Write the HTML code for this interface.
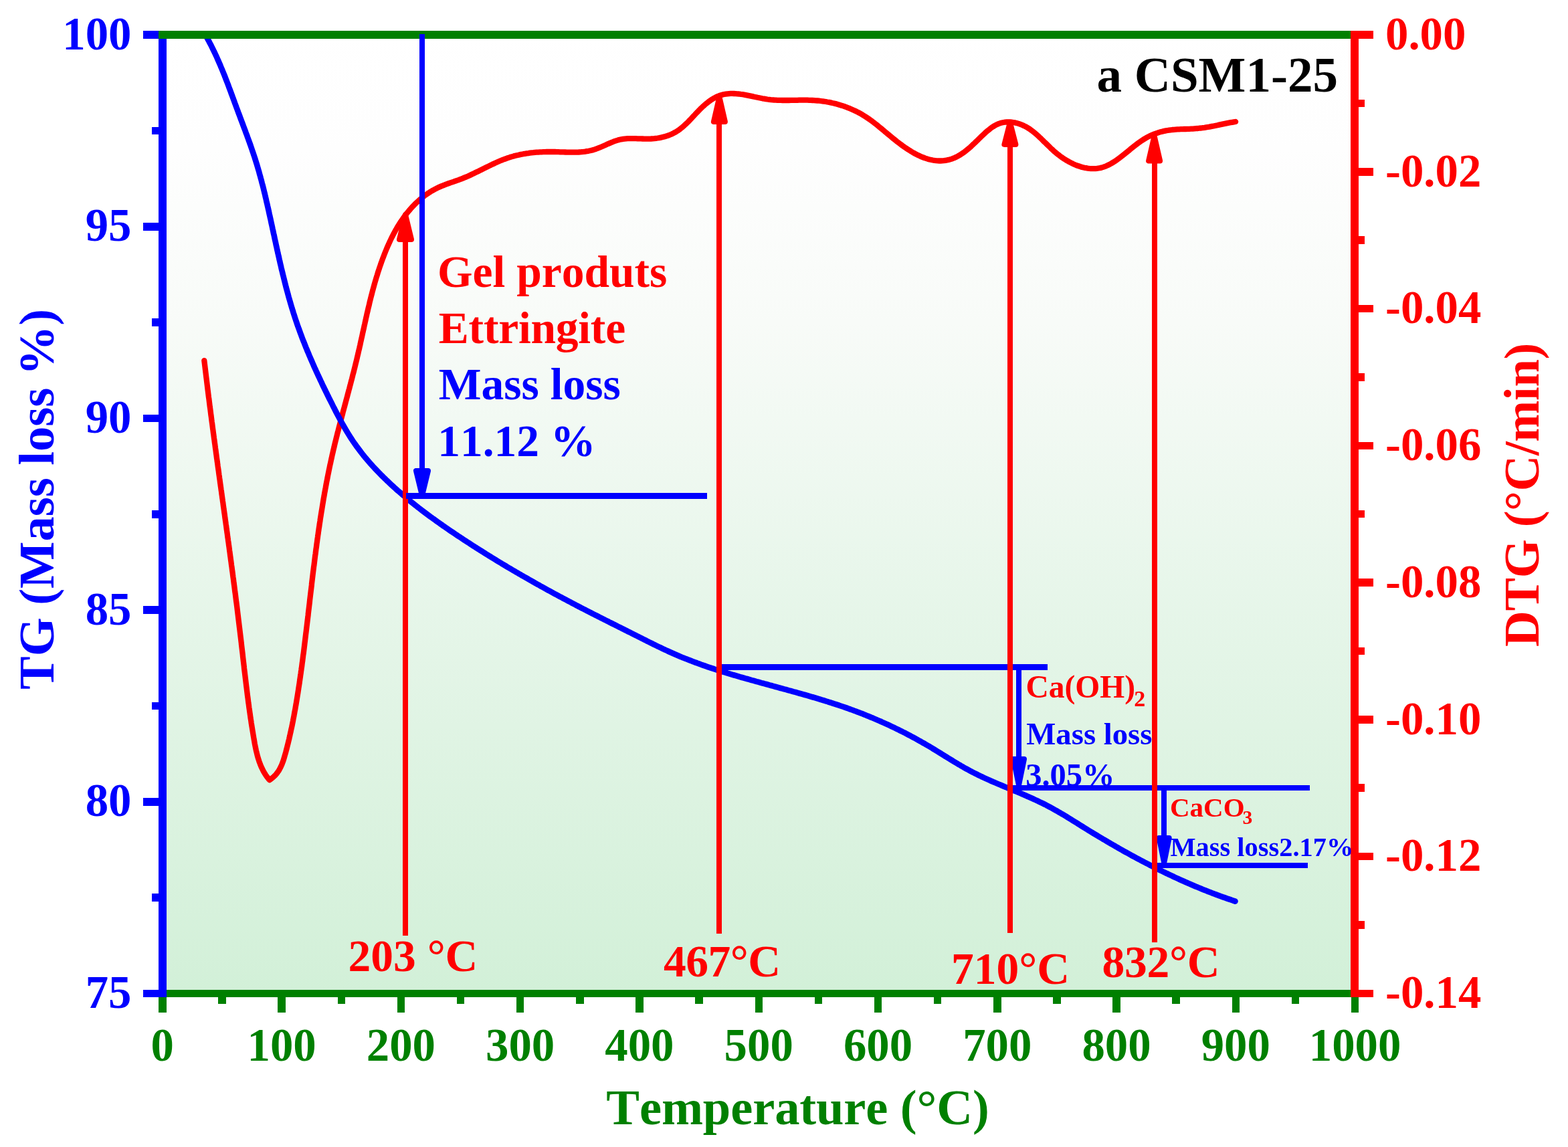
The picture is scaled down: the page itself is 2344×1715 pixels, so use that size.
<!DOCTYPE html>
<html><head><meta charset="utf-8"><title>TG-DTG a CSM1-25</title>
<style>html,body{margin:0;padding:0;background:#fff;overflow:hidden}svg{display:block} text{font-kerning:none;font-variant-ligatures:none}</style>
</head><body>
<svg xmlns="http://www.w3.org/2000/svg" width="2344" height="1715" viewBox="0 0 2344 1715"><defs><linearGradient id="bg" x1="0" y1="0" x2="0" y2="1"><stop offset="0" stop-color="#ffffff"/><stop offset="0.12" stop-color="#fefefe"/><stop offset="0.3" stop-color="#f8fbf8"/><stop offset="0.58" stop-color="#e7f6ea"/><stop offset="1" stop-color="#d2f0d8"/></linearGradient></defs><rect x="243" y="52" width="1782" height="1434" fill="url(#bg)"/><path d="M305.3 539.1 L305.6 541.6 L305.9 544.1 L306.2 546.5 L306.5 549.0 L306.8 551.5 L307.1 554.0 L307.4 556.4 L307.7 558.9 L308.0 561.4 L308.3 563.9 L308.6 566.3 L308.9 568.8 L309.2 571.3 L309.5 573.8 L309.8 576.2 L310.1 578.7 L310.4 581.2 L310.7 583.7 L311.0 586.1 L311.3 588.6 L311.6 591.1 L311.9 593.6 L312.3 596.0 L312.6 598.5 L312.9 601.0 L313.2 603.5 L313.5 605.9 L313.8 608.4 L314.2 610.9 L314.5 613.3 L314.8 615.8 L315.1 618.3 L315.4 620.8 L315.8 623.2 L316.1 625.7 L316.4 628.2 L316.7 630.6 L317.1 633.1 L317.4 635.6 L317.7 638.0 L318.0 640.5 L318.4 643.0 L318.7 645.5 L319.0 647.9 L319.4 650.4 L319.7 652.9 L320.0 655.3 L320.4 657.8 L320.7 660.3 L321.0 662.7 L321.4 665.2 L321.7 667.7 L322.0 670.1 L322.4 672.6 L322.7 675.1 L323.0 677.5 L323.4 680.0 L323.7 682.5 L324.0 685.0 L324.4 687.4 L324.7 689.9 L325.1 692.4 L325.4 694.8 L325.7 697.3 L326.1 699.8 L326.4 702.2 L326.8 704.7 L327.1 707.2 L327.4 709.6 L327.8 712.1 L328.1 714.6 L328.5 717.0 L328.8 719.5 L329.1 722.0 L329.5 724.4 L329.8 726.9 L330.2 729.4 L330.5 731.8 L330.9 734.3 L331.2 736.8 L331.5 739.2 L331.9 741.7 L332.2 744.2 L332.6 746.6 L332.9 749.1 L333.3 751.6 L333.6 754.0 L333.9 756.5 L334.3 759.0 L334.6 761.4 L335.0 763.9 L335.3 766.4 L335.7 768.8 L336.0 771.3 L336.3 773.8 L336.7 776.2 L337.0 778.7 L337.4 781.2 L337.7 783.6 L338.1 786.1 L338.4 788.6 L338.7 791.0 L339.1 793.5 L339.4 796.0 L339.8 798.4 L340.1 800.9 L340.4 803.4 L340.8 805.8 L341.1 808.3 L341.5 810.8 L341.8 813.2 L342.1 815.7 L342.5 818.2 L342.8 820.6 L343.1 823.1 L343.5 825.6 L343.8 828.1 L344.1 830.5 L344.5 833.0 L344.8 835.5 L345.1 837.9 L345.5 840.4 L345.8 842.9 L346.1 845.3 L346.5 847.8 L346.8 850.3 L347.1 852.8 L347.5 855.2 L347.8 857.7 L348.1 860.2 L348.4 862.6 L348.8 865.1 L349.1 867.6 L349.4 870.0 L349.7 872.5 L350.1 875.0 L350.4 877.5 L350.7 879.9 L351.0 882.4 L351.3 884.9 L351.7 887.4 L352.0 889.8 L352.3 892.3 L352.6 894.8 L352.9 897.2 L353.2 899.7 L353.6 902.2 L353.9 904.7 L354.2 907.1 L354.5 909.6 L354.8 912.1 L355.1 914.6 L355.4 917.0 L355.7 919.5 L356.0 922.0 L356.3 924.5 L356.6 926.9 L356.9 929.4 L357.2 931.9 L357.5 934.4 L357.8 936.9 L358.1 939.3 L358.4 941.8 L358.7 944.3 L359.0 946.8 L359.3 949.3 L359.6 951.7 L359.9 954.2 L360.2 956.7 L360.5 959.2 L360.8 961.7 L361.0 964.1 L361.3 966.6 L361.6 969.1 L361.9 971.6 L362.2 974.1 L362.5 976.5 L362.8 979.0 L363.0 981.5 L363.3 984.0 L363.6 986.5 L363.9 988.9 L364.2 991.4 L364.5 993.9 L364.8 996.4 L365.0 998.9 L365.3 1001.4 L365.6 1003.8 L365.9 1006.3 L366.2 1008.8 L366.5 1011.3 L366.8 1013.8 L367.1 1016.2 L367.4 1018.7 L367.7 1021.2 L368.0 1023.7 L368.3 1026.2 L368.6 1028.6 L368.9 1031.1 L369.2 1033.6 L369.5 1036.1 L369.8 1038.5 L370.1 1041.0 L370.5 1043.5 L370.8 1046.0 L371.1 1048.4 L371.4 1050.9 L371.8 1053.4 L372.1 1055.9 L372.4 1058.3 L372.8 1060.8 L373.1 1063.3 L373.5 1065.7 L373.8 1068.2 L374.2 1070.7 L374.5 1073.2 L374.9 1075.6 L375.3 1078.1 L375.6 1080.6 L376.0 1083.0 L376.4 1085.5 L376.8 1087.9 L377.2 1090.4 L377.6 1092.9 L378.0 1095.3 L378.4 1097.8 L378.8 1100.2 L379.2 1102.7 L379.6 1105.2 L380.1 1107.6 L380.5 1110.1 L380.9 1112.5 L381.4 1115.0 L381.9 1117.4 L382.4 1119.8 L382.9 1122.2 L383.5 1124.6 L384.1 1127.0 L384.7 1129.4 L385.3 1131.8 L386.0 1134.1 L386.8 1136.4 L387.5 1138.7 L388.4 1141.0 L389.2 1143.3 L390.1 1145.5 L391.1 1147.7 L392.2 1149.9 L393.2 1152.0 L394.4 1154.2 L395.6 1156.3 L396.9 1158.3 L398.3 1160.3 L399.7 1162.3 L401.2 1164.3 L402.8 1166.2 L402.8 1166.2 L405.0 1164.7 L407.1 1163.2 L409.0 1161.5 L410.8 1159.8 L412.5 1158.0 L414.0 1156.1 L415.4 1154.1 L416.8 1152.1 L418.0 1150.0 L419.1 1147.8 L420.2 1145.6 L421.2 1143.4 L422.1 1141.1 L423.0 1138.8 L423.8 1136.4 L424.5 1134.0 L425.2 1131.6 L425.9 1129.2 L426.6 1126.8 L427.3 1124.3 L427.9 1121.9 L428.6 1119.5 L429.2 1117.0 L429.8 1114.6 L430.4 1112.2 L431.0 1109.7 L431.6 1107.3 L432.2 1104.9 L432.7 1102.4 L433.3 1100.0 L433.8 1097.5 L434.4 1095.1 L434.9 1092.6 L435.4 1090.2 L436.0 1087.7 L436.5 1085.3 L437.0 1082.9 L437.5 1080.4 L438.0 1078.0 L438.4 1075.5 L438.9 1073.0 L439.4 1070.6 L439.8 1068.1 L440.3 1065.7 L440.7 1063.2 L441.2 1060.8 L441.6 1058.3 L442.0 1055.9 L442.5 1053.4 L442.9 1050.9 L443.3 1048.5 L443.7 1046.0 L444.1 1043.6 L444.5 1041.1 L444.9 1038.6 L445.3 1036.2 L445.7 1033.7 L446.1 1031.2 L446.4 1028.8 L446.8 1026.3 L447.2 1023.8 L447.6 1021.4 L447.9 1018.9 L448.3 1016.4 L448.6 1014.0 L449.0 1011.5 L449.3 1009.0 L449.7 1006.6 L450.0 1004.1 L450.4 1001.6 L450.7 999.1 L451.1 996.7 L451.4 994.2 L451.7 991.7 L452.1 989.2 L452.4 986.8 L452.7 984.3 L453.0 981.8 L453.3 979.3 L453.7 976.9 L454.0 974.4 L454.3 971.9 L454.6 969.4 L454.9 967.0 L455.2 964.5 L455.5 962.0 L455.8 959.5 L456.1 957.1 L456.4 954.6 L456.7 952.1 L457.0 949.6 L457.3 947.1 L457.6 944.7 L457.9 942.2 L458.2 939.7 L458.5 937.2 L458.8 934.7 L459.1 932.3 L459.4 929.8 L459.7 927.3 L460.0 924.8 L460.3 922.3 L460.6 919.9 L460.8 917.4 L461.1 914.9 L461.4 912.4 L461.7 909.9 L462.0 907.5 L462.3 905.0 L462.6 902.5 L462.9 900.0 L463.1 897.5 L463.4 895.0 L463.7 892.6 L464.0 890.1 L464.3 887.6 L464.6 885.1 L464.9 882.6 L465.2 880.2 L465.5 877.7 L465.8 875.2 L466.0 872.7 L466.3 870.2 L466.6 867.7 L466.9 865.3 L467.2 862.8 L467.5 860.3 L467.8 857.8 L468.1 855.3 L468.4 852.9 L468.7 850.4 L469.0 847.9 L469.4 845.4 L469.7 842.9 L470.0 840.5 L470.3 838.0 L470.6 835.5 L470.9 833.0 L471.2 830.5 L471.6 828.1 L471.9 825.6 L472.2 823.1 L472.5 820.6 L472.9 818.2 L473.2 815.7 L473.5 813.2 L473.9 810.7 L474.2 808.3 L474.5 805.8 L474.9 803.3 L475.2 800.8 L475.6 798.4 L475.9 795.9 L476.3 793.4 L476.6 790.9 L477.0 788.5 L477.4 786.0 L477.7 783.5 L478.1 781.1 L478.5 778.6 L478.8 776.1 L479.2 773.6 L479.6 771.2 L480.0 768.7 L480.4 766.2 L480.8 763.8 L481.2 761.3 L481.6 758.9 L482.0 756.4 L482.4 753.9 L482.8 751.5 L483.2 749.0 L483.6 746.5 L484.0 744.1 L484.5 741.6 L484.9 739.2 L485.3 736.7 L485.8 734.3 L486.2 731.8 L486.7 729.3 L487.1 726.9 L487.6 724.4 L488.0 722.0 L488.5 719.5 L489.0 717.1 L489.5 714.6 L489.9 712.2 L490.4 709.7 L490.9 707.3 L491.4 704.9 L491.9 702.4 L492.4 700.0 L492.9 697.5 L493.4 695.1 L494.0 692.7 L494.5 690.2 L495.0 687.8 L495.6 685.3 L496.1 682.9 L496.6 680.5 L497.2 678.0 L497.8 675.6 L498.3 673.2 L498.9 670.8 L499.5 668.3 L500.0 665.9 L500.6 663.5 L501.2 661.1 L501.8 658.6 L502.4 656.2 L503.0 653.8 L503.6 651.4 L504.2 648.9 L504.8 646.5 L505.5 644.1 L506.1 641.7 L506.7 639.3 L507.3 636.9 L508.0 634.4 L508.6 632.0 L509.2 629.6 L509.8 627.2 L510.5 624.8 L511.1 622.4 L511.8 619.9 L512.4 617.5 L513.0 615.1 L513.7 612.7 L514.3 610.3 L515.0 607.9 L515.6 605.5 L516.3 603.1 L516.9 600.6 L517.6 598.2 L518.2 595.8 L518.9 593.4 L519.5 591.0 L520.1 588.6 L520.8 586.2 L521.4 583.7 L522.1 581.3 L522.7 578.9 L523.3 576.5 L524.0 574.1 L524.6 571.7 L525.2 569.3 L525.9 566.8 L526.5 564.4 L527.1 562.0 L527.7 559.6 L528.4 557.2 L529.0 554.7 L529.6 552.3 L530.2 549.9 L530.8 547.5 L531.4 545.0 L532.0 542.6 L532.6 540.2 L533.2 537.8 L533.8 535.3 L534.3 532.9 L534.9 530.5 L535.5 528.0 L536.0 525.6 L536.6 523.2 L537.2 520.7 L537.7 518.3 L538.3 515.9 L538.8 513.4 L539.3 511.0 L539.9 508.5 L540.4 506.1 L541.0 503.7 L541.5 501.2 L542.0 498.8 L542.6 496.3 L543.1 493.9 L543.7 491.5 L544.2 489.0 L544.7 486.6 L545.3 484.1 L545.8 481.7 L546.4 479.3 L546.9 476.8 L547.4 474.4 L548.0 472.0 L548.5 469.5 L549.1 467.1 L549.7 464.7 L550.2 462.2 L550.8 459.8 L551.4 457.4 L552.0 455.0 L552.5 452.5 L553.1 450.1 L553.7 447.7 L554.3 445.3 L554.9 442.9 L555.6 440.4 L556.2 438.0 L556.8 435.6 L557.5 433.2 L558.1 430.8 L558.8 428.4 L559.4 426.0 L560.1 423.6 L560.8 421.2 L561.5 418.8 L562.2 416.4 L562.9 414.1 L563.7 411.7 L564.4 409.3 L565.1 406.9 L565.9 404.6 L566.7 402.2 L567.5 399.8 L568.3 397.5 L569.1 395.1 L569.9 392.8 L570.8 390.4 L571.6 388.1 L572.5 385.7 L573.4 383.4 L574.3 381.1 L575.2 378.7 L576.1 376.4 L577.1 374.1 L578.0 371.8 L579.0 369.5 L580.0 367.2 L581.1 364.9 L582.1 362.6 L583.2 360.3 L584.2 358.1 L585.3 355.8 L586.5 353.6 L587.6 351.3 L588.8 349.1 L589.9 346.9 L591.1 344.7 L592.4 342.5 L593.6 340.4 L594.9 338.2 L596.2 336.1 L597.5 334.0 L598.9 331.9 L600.3 329.8 L601.7 327.8 L603.1 325.7 L604.6 323.7 L606.0 321.7 L607.6 319.7 L609.1 317.8 L610.7 315.9 L612.3 314.0 L613.9 312.1 L615.6 310.2 L617.3 308.4 L619.0 306.6 L620.8 304.8 L622.6 303.1 L624.4 301.4 L626.2 299.7 L628.1 298.1 L630.0 296.5 L632.0 294.9 L633.9 293.3 L635.9 291.8 L638.0 290.4 L640.0 289.0 L642.1 287.6 L644.2 286.3 L646.3 285.0 L648.5 283.8 L650.7 282.6 L652.9 281.5 L655.1 280.4 L657.4 279.4 L659.7 278.4 L661.9 277.5 L664.3 276.6 L666.6 275.7 L668.9 274.8 L671.3 274.0 L673.6 273.2 L676.0 272.4 L678.3 271.6 L680.7 270.7 L683.1 269.9 L685.4 269.1 L687.8 268.2 L690.1 267.3 L692.4 266.4 L694.7 265.4 L697.1 264.5 L699.4 263.5 L701.7 262.4 L703.9 261.4 L706.2 260.3 L708.5 259.2 L710.8 258.1 L713.0 257.0 L715.3 255.9 L717.6 254.8 L719.8 253.7 L722.1 252.6 L724.3 251.4 L726.6 250.3 L728.9 249.2 L731.1 248.1 L733.4 247.0 L735.6 245.9 L737.9 244.9 L740.2 243.8 L742.5 242.8 L744.7 241.8 L747.0 240.8 L749.3 239.8 L751.6 238.9 L753.9 238.0 L756.3 237.2 L758.6 236.3 L760.9 235.6 L763.3 234.8 L765.6 234.1 L768.0 233.4 L770.4 232.8 L772.8 232.2 L775.2 231.7 L777.6 231.1 L780.0 230.7 L782.4 230.2 L784.9 229.8 L787.3 229.4 L789.8 229.1 L792.2 228.7 L794.7 228.4 L797.2 228.2 L799.6 227.9 L802.1 227.7 L804.6 227.6 L807.1 227.4 L809.6 227.3 L812.1 227.2 L814.6 227.1 L817.1 227.0 L819.6 227.0 L822.2 227.0 L824.7 227.0 L827.2 227.0 L829.7 227.0 L832.3 227.1 L834.8 227.2 L837.3 227.3 L839.8 227.3 L842.4 227.4 L844.9 227.5 L847.4 227.6 L849.9 227.6 L852.5 227.7 L855.0 227.7 L857.5 227.7 L860.0 227.7 L862.5 227.6 L865.0 227.5 L867.4 227.3 L869.9 227.1 L872.4 226.9 L874.8 226.6 L877.2 226.2 L879.7 225.8 L882.1 225.3 L884.5 224.7 L886.9 224.1 L889.2 223.3 L891.6 222.5 L893.9 221.6 L896.3 220.7 L898.6 219.7 L900.9 218.7 L903.2 217.7 L905.5 216.7 L907.9 215.6 L910.2 214.6 L912.5 213.6 L914.8 212.7 L917.1 211.7 L919.4 210.9 L921.8 210.1 L924.1 209.4 L926.5 208.8 L928.8 208.3 L931.2 207.9 L933.6 207.6 L936.0 207.4 L938.4 207.2 L940.9 207.1 L943.3 207.1 L945.7 207.1 L948.2 207.1 L950.7 207.2 L953.1 207.3 L955.6 207.3 L958.1 207.4 L960.6 207.5 L963.1 207.6 L965.6 207.6 L968.1 207.6 L970.6 207.6 L973.1 207.5 L975.6 207.3 L978.1 207.1 L980.6 206.8 L983.1 206.5 L985.6 206.1 L988.0 205.6 L990.5 205.0 L992.9 204.4 L995.3 203.7 L997.6 203.0 L1000.0 202.2 L1002.3 201.2 L1004.5 200.3 L1006.7 199.2 L1008.9 198.0 L1011.0 196.8 L1013.1 195.5 L1015.1 194.1 L1017.1 192.6 L1019.0 191.1 L1020.9 189.5 L1022.8 187.8 L1024.6 186.1 L1026.5 184.4 L1028.3 182.6 L1030.0 180.8 L1031.8 179.0 L1033.6 177.1 L1035.3 175.2 L1037.0 173.4 L1038.8 171.5 L1040.5 169.6 L1042.3 167.8 L1044.1 165.9 L1045.8 164.1 L1047.6 162.3 L1049.5 160.5 L1051.3 158.8 L1053.2 157.1 L1055.0 155.5 L1057.0 153.9 L1058.9 152.4 L1060.9 150.9 L1062.9 149.6 L1064.9 148.3 L1067.0 147.0 L1069.1 145.9 L1071.2 144.8 L1073.4 143.8 L1075.6 143.0 L1077.9 142.2 L1080.2 141.6 L1082.5 141.0 L1084.9 140.6 L1087.3 140.3 L1089.8 140.1 L1092.2 139.9 L1094.7 139.9 L1097.3 140.0 L1099.8 140.1 L1102.3 140.3 L1104.9 140.5 L1107.4 140.9 L1110.0 141.2 L1112.5 141.6 L1115.0 142.1 L1117.5 142.6 L1120.0 143.1 L1122.5 143.6 L1125.0 144.1 L1127.5 144.7 L1130.0 145.2 L1132.5 145.8 L1134.9 146.3 L1137.4 146.8 L1139.9 147.3 L1142.4 147.7 L1144.8 148.1 L1147.3 148.5 L1149.8 148.8 L1152.3 149.1 L1154.8 149.3 L1157.2 149.5 L1159.7 149.6 L1162.2 149.8 L1164.7 149.8 L1167.2 149.9 L1169.7 150.0 L1172.1 150.0 L1174.6 150.0 L1177.1 150.0 L1179.6 150.0 L1182.1 149.9 L1184.6 149.9 L1187.1 149.9 L1189.6 149.8 L1192.1 149.8 L1194.5 149.7 L1197.0 149.7 L1199.5 149.7 L1202.0 149.7 L1204.5 149.7 L1207.0 149.7 L1209.5 149.8 L1212.0 149.9 L1214.5 150.0 L1217.0 150.1 L1219.4 150.3 L1221.9 150.5 L1224.4 150.7 L1226.9 151.0 L1229.4 151.3 L1231.9 151.7 L1234.4 152.0 L1236.8 152.5 L1239.3 152.9 L1241.7 153.4 L1244.2 154.0 L1246.6 154.5 L1249.1 155.1 L1251.5 155.8 L1253.9 156.5 L1256.3 157.2 L1258.7 157.9 L1261.0 158.7 L1263.4 159.5 L1265.7 160.4 L1268.1 161.3 L1270.4 162.2 L1272.7 163.2 L1274.9 164.2 L1277.2 165.2 L1279.4 166.3 L1281.6 167.4 L1283.8 168.5 L1286.0 169.7 L1288.1 170.9 L1290.2 172.2 L1292.3 173.5 L1294.3 174.8 L1296.4 176.1 L1298.4 177.5 L1300.4 178.9 L1302.4 180.3 L1304.3 181.8 L1306.3 183.3 L1308.2 184.8 L1310.2 186.3 L1312.1 187.8 L1314.0 189.4 L1315.9 190.9 L1317.8 192.5 L1319.7 194.1 L1321.6 195.7 L1323.5 197.3 L1325.4 198.9 L1327.3 200.5 L1329.3 202.1 L1331.2 203.7 L1333.1 205.3 L1335.1 206.9 L1337.1 208.5 L1339.0 210.1 L1341.0 211.7 L1343.1 213.3 L1345.1 214.8 L1347.2 216.4 L1349.2 217.9 L1351.3 219.4 L1353.5 220.9 L1355.6 222.3 L1357.8 223.7 L1360.0 225.1 L1362.2 226.5 L1364.4 227.8 L1366.6 229.0 L1368.9 230.3 L1371.2 231.4 L1373.4 232.5 L1375.7 233.6 L1378.0 234.6 L1380.4 235.5 L1382.7 236.4 L1385.0 237.1 L1387.4 237.9 L1389.7 238.5 L1392.1 239.0 L1394.4 239.5 L1396.8 239.9 L1399.2 240.2 L1401.6 240.4 L1404.0 240.5 L1406.4 240.5 L1408.7 240.4 L1411.1 240.2 L1413.5 239.8 L1415.8 239.4 L1418.2 238.9 L1420.5 238.3 L1422.8 237.6 L1425.1 236.7 L1427.3 235.8 L1429.5 234.7 L1431.7 233.6 L1433.8 232.4 L1436.0 231.1 L1438.0 229.7 L1440.1 228.3 L1442.2 226.8 L1444.2 225.2 L1446.2 223.6 L1448.1 222.0 L1450.1 220.3 L1452.0 218.6 L1453.9 216.8 L1455.7 215.0 L1457.6 213.3 L1459.4 211.5 L1461.3 209.7 L1463.1 207.9 L1465.0 206.1 L1466.8 204.3 L1468.7 202.5 L1470.6 200.7 L1472.5 198.9 L1474.4 197.2 L1476.4 195.5 L1478.4 193.9 L1480.4 192.3 L1482.4 190.8 L1484.5 189.4 L1486.6 188.1 L1488.8 186.9 L1491.0 185.8 L1493.2 184.9 L1495.5 184.1 L1497.8 183.5 L1500.2 183.0 L1502.5 182.7 L1504.9 182.5 L1507.3 182.5 L1509.7 182.5 L1512.2 182.7 L1514.6 183.0 L1517.0 183.4 L1519.4 184.0 L1521.7 184.6 L1524.0 185.3 L1526.3 186.2 L1528.6 187.1 L1530.8 188.1 L1533.0 189.2 L1535.1 190.4 L1537.1 191.6 L1539.2 192.9 L1541.1 194.3 L1543.1 195.8 L1545.0 197.3 L1546.9 198.8 L1548.8 200.4 L1550.6 202.0 L1552.5 203.7 L1554.3 205.4 L1556.1 207.1 L1557.9 208.9 L1559.7 210.7 L1561.5 212.5 L1563.4 214.2 L1565.2 216.0 L1567.0 217.8 L1568.9 219.6 L1570.7 221.4 L1572.6 223.2 L1574.5 224.9 L1576.4 226.7 L1578.4 228.3 L1580.4 230.0 L1582.5 231.6 L1584.5 233.2 L1586.6 234.8 L1588.8 236.3 L1591.0 237.7 L1593.2 239.1 L1595.4 240.4 L1597.7 241.7 L1600.0 242.9 L1602.3 244.1 L1604.6 245.2 L1606.9 246.2 L1609.2 247.2 L1611.6 248.0 L1614.0 248.8 L1616.3 249.6 L1618.7 250.2 L1621.1 250.8 L1623.5 251.2 L1625.9 251.6 L1628.2 251.9 L1630.6 252.1 L1633.0 252.2 L1635.3 252.2 L1637.7 252.1 L1640.0 251.9 L1642.3 251.5 L1644.6 251.1 L1646.8 250.6 L1649.1 249.9 L1651.3 249.1 L1653.5 248.3 L1655.7 247.3 L1657.8 246.2 L1660.0 245.1 L1662.1 243.9 L1664.2 242.6 L1666.4 241.3 L1668.5 239.8 L1670.5 238.4 L1672.6 236.9 L1674.7 235.3 L1676.7 233.7 L1678.8 232.1 L1680.8 230.5 L1682.9 228.8 L1684.9 227.2 L1687.0 225.5 L1689.0 223.8 L1691.1 222.1 L1693.1 220.5 L1695.2 218.8 L1697.2 217.2 L1699.3 215.6 L1701.3 214.1 L1703.4 212.6 L1705.5 211.1 L1707.6 209.7 L1709.7 208.4 L1711.8 207.1 L1713.9 205.9 L1716.1 204.7 L1718.2 203.6 L1720.4 202.6 L1722.6 201.6 L1724.8 200.7 L1727.0 199.9 L1729.2 199.1 L1731.5 198.3 L1733.7 197.6 L1736.0 197.0 L1738.3 196.4 L1740.7 195.9 L1743.0 195.4 L1745.4 195.0 L1747.8 194.6 L1750.2 194.3 L1752.6 194.0 L1755.1 193.8 L1757.6 193.6 L1760.1 193.4 L1762.6 193.3 L1765.1 193.2 L1767.7 193.1 L1770.2 193.0 L1772.8 193.0 L1775.4 192.9 L1777.9 192.8 L1780.5 192.7 L1783.1 192.6 L1785.6 192.4 L1788.1 192.2 L1790.7 192.0 L1793.2 191.7 L1795.7 191.5 L1798.1 191.1 L1800.6 190.8 L1803.1 190.4 L1805.5 190.0 L1808.0 189.6 L1810.4 189.1 L1812.9 188.7 L1815.3 188.2 L1817.7 187.7 L1820.1 187.2 L1822.6 186.6 L1825.0 186.1 L1827.4 185.6 L1829.9 185.1 L1832.3 184.6 L1834.7 184.1 L1837.2 183.6 L1839.6 183.2 L1842.1 182.8 L1844.6 182.4 L1847.1 182.0" fill="none" stroke="#ff0000" stroke-width="8.3" stroke-linejoin="round" stroke-linecap="round"/><path d="M306.3 50.9 L307.5 53.1 L308.8 55.2 L310.0 57.4 L311.2 59.6 L312.4 61.8 L313.5 64.0 L314.7 66.2 L315.8 68.4 L316.9 70.6 L318.0 72.9 L319.1 75.1 L320.2 77.4 L321.3 79.6 L322.3 81.9 L323.4 84.1 L324.4 86.4 L325.4 88.7 L326.4 90.9 L327.4 93.2 L328.4 95.5 L329.4 97.8 L330.3 100.1 L331.3 102.4 L332.3 104.7 L333.2 107.0 L334.1 109.3 L335.1 111.6 L336.0 113.9 L336.9 116.3 L337.8 118.6 L338.7 120.9 L339.6 123.2 L340.5 125.6 L341.4 127.9 L342.2 130.2 L343.1 132.6 L344.0 134.9 L344.9 137.2 L345.7 139.6 L346.6 141.9 L347.5 144.3 L348.3 146.6 L349.2 149.0 L350.1 151.3 L350.9 153.7 L351.8 156.0 L352.7 158.4 L353.5 160.7 L354.4 163.0 L355.3 165.4 L356.1 167.7 L357.0 170.1 L357.9 172.4 L358.8 174.8 L359.6 177.1 L360.5 179.4 L361.4 181.8 L362.3 184.1 L363.2 186.5 L364.0 188.8 L364.9 191.1 L365.8 193.5 L366.7 195.8 L367.5 198.2 L368.4 200.5 L369.3 202.8 L370.1 205.2 L371.0 207.5 L371.8 209.9 L372.7 212.2 L373.5 214.6 L374.4 216.9 L375.2 219.3 L376.0 221.6 L376.8 224.0 L377.6 226.4 L378.4 228.7 L379.2 231.1 L380.0 233.4 L380.8 235.8 L381.5 238.2 L382.3 240.6 L383.0 242.9 L383.8 245.3 L384.5 247.7 L385.2 250.1 L385.9 252.5 L386.6 254.9 L387.3 257.3 L387.9 259.7 L388.6 262.1 L389.3 264.5 L389.9 266.9 L390.6 269.3 L391.2 271.7 L391.8 274.1 L392.5 276.5 L393.1 278.9 L393.7 281.3 L394.3 283.8 L394.9 286.2 L395.5 288.6 L396.1 291.0 L396.6 293.5 L397.2 295.9 L397.8 298.3 L398.3 300.7 L398.9 303.2 L399.5 305.6 L400.0 308.0 L400.6 310.5 L401.1 312.9 L401.7 315.3 L402.2 317.8 L402.7 320.2 L403.3 322.7 L403.8 325.1 L404.4 327.5 L404.9 330.0 L405.4 332.4 L405.9 334.8 L406.5 337.3 L407.0 339.7 L407.5 342.2 L408.1 344.6 L408.6 347.1 L409.1 349.5 L409.7 351.9 L410.2 354.4 L410.7 356.8 L411.2 359.3 L411.8 361.7 L412.3 364.1 L412.8 366.6 L413.4 369.0 L413.9 371.5 L414.4 373.9 L415.0 376.3 L415.5 378.8 L416.1 381.2 L416.6 383.6 L417.2 386.1 L417.7 388.5 L418.3 390.9 L418.8 393.4 L419.4 395.8 L420.0 398.2 L420.5 400.7 L421.1 403.1 L421.7 405.5 L422.3 407.9 L422.9 410.4 L423.5 412.8 L424.1 415.2 L424.7 417.6 L425.3 420.0 L425.9 422.5 L426.5 424.9 L427.1 427.3 L427.7 429.7 L428.4 432.1 L429.0 434.5 L429.7 436.9 L430.3 439.3 L431.0 441.7 L431.6 444.1 L432.3 446.5 L433.0 448.9 L433.7 451.3 L434.4 453.7 L435.1 456.1 L435.8 458.5 L436.5 460.9 L437.3 463.3 L438.0 465.6 L438.7 468.0 L439.5 470.4 L440.3 472.8 L441.0 475.1 L441.8 477.5 L442.6 479.9 L443.4 482.2 L444.2 484.6 L445.0 486.9 L445.9 489.3 L446.7 491.6 L447.6 494.0 L448.4 496.3 L449.3 498.7 L450.2 501.0 L451.0 503.3 L451.9 505.7 L452.8 508.0 L453.7 510.3 L454.7 512.6 L455.6 515.0 L456.5 517.3 L457.4 519.6 L458.4 521.9 L459.3 524.2 L460.3 526.5 L461.3 528.8 L462.2 531.1 L463.2 533.4 L464.2 535.7 L465.2 538.0 L466.2 540.3 L467.2 542.6 L468.2 544.9 L469.2 547.2 L470.2 549.5 L471.3 551.8 L472.3 554.1 L473.3 556.3 L474.4 558.6 L475.4 560.9 L476.5 563.2 L477.6 565.4 L478.6 567.7 L479.7 570.0 L480.8 572.2 L481.8 574.5 L482.9 576.8 L484.0 579.0 L485.1 581.3 L486.2 583.5 L487.3 585.8 L488.4 588.0 L489.5 590.3 L490.6 592.5 L491.7 594.8 L492.8 597.0 L493.9 599.2 L495.1 601.5 L496.2 603.7 L497.3 606.0 L498.4 608.2 L499.6 610.4 L500.7 612.7 L501.8 614.9 L503.0 617.1 L504.1 619.3 L505.3 621.5 L506.5 623.7 L507.7 625.9 L508.8 628.1 L510.0 630.3 L511.2 632.5 L512.4 634.7 L513.7 636.8 L514.9 639.0 L516.2 641.2 L517.4 643.3 L518.7 645.4 L520.0 647.6 L521.3 649.7 L522.6 651.8 L523.9 653.9 L525.3 656.0 L526.6 658.0 L528.0 660.1 L529.4 662.1 L530.8 664.2 L532.3 666.2 L533.7 668.2 L535.2 670.2 L536.7 672.2 L538.2 674.2 L539.7 676.2 L541.2 678.1 L542.8 680.1 L544.3 682.0 L545.9 683.9 L547.5 685.8 L549.1 687.7 L550.7 689.6 L552.4 691.5 L554.0 693.4 L555.7 695.2 L557.3 697.1 L559.0 698.9 L560.7 700.7 L562.4 702.5 L564.1 704.3 L565.9 706.1 L567.6 707.9 L569.4 709.7 L571.1 711.5 L572.9 713.2 L574.7 715.0 L576.5 716.7 L578.3 718.5 L580.1 720.2 L581.9 721.9 L583.7 723.6 L585.5 725.3 L587.4 727.0 L589.2 728.7 L591.1 730.3 L592.9 732.0 L594.8 733.7 L596.7 735.3 L598.6 736.9 L600.5 738.6 L602.4 740.2 L604.3 741.8 L606.2 743.4 L608.1 745.0 L610.0 746.6 L611.9 748.2 L613.9 749.8 L615.8 751.3 L617.8 752.9 L619.7 754.5 L621.7 756.0 L623.7 757.6 L625.6 759.1 L627.6 760.6 L629.6 762.2 L631.6 763.7 L633.6 765.2 L635.6 766.7 L637.6 768.2 L639.6 769.7 L641.6 771.2 L643.6 772.7 L645.6 774.1 L647.6 775.6 L649.7 777.1 L651.7 778.5 L653.7 780.0 L655.8 781.4 L657.8 782.9 L659.9 784.3 L661.9 785.8 L664.0 787.2 L666.0 788.6 L668.1 790.0 L670.2 791.5 L672.2 792.9 L674.3 794.3 L676.4 795.7 L678.5 797.1 L680.5 798.5 L682.6 799.9 L684.7 801.3 L686.8 802.6 L688.9 804.0 L691.0 805.4 L693.0 806.8 L695.1 808.2 L697.2 809.5 L699.3 810.9 L701.4 812.2 L703.5 813.6 L705.6 815.0 L707.7 816.3 L709.8 817.7 L711.9 819.0 L714.0 820.3 L716.1 821.7 L718.2 823.0 L720.4 824.3 L722.5 825.7 L724.6 827.0 L726.7 828.3 L728.8 829.6 L730.9 831.0 L733.1 832.3 L735.2 833.6 L737.3 834.9 L739.4 836.2 L741.6 837.5 L743.7 838.8 L745.8 840.1 L748.0 841.4 L750.1 842.7 L752.2 843.9 L754.4 845.2 L756.5 846.5 L758.6 847.8 L760.8 849.1 L762.9 850.3 L765.1 851.6 L767.2 852.9 L769.4 854.1 L771.5 855.4 L773.7 856.6 L775.8 857.9 L778.0 859.1 L780.1 860.4 L782.3 861.6 L784.5 862.9 L786.6 864.1 L788.8 865.3 L791.0 866.6 L793.1 867.8 L795.3 869.0 L797.5 870.3 L799.6 871.5 L801.8 872.7 L804.0 873.9 L806.2 875.1 L808.3 876.4 L810.5 877.6 L812.7 878.8 L814.9 880.0 L817.1 881.2 L819.2 882.4 L821.4 883.6 L823.6 884.8 L825.8 886.0 L828.0 887.2 L830.2 888.4 L832.4 889.5 L834.6 890.7 L836.8 891.9 L839.0 893.1 L841.2 894.3 L843.4 895.4 L845.6 896.6 L847.8 897.8 L850.0 898.9 L852.2 900.1 L854.4 901.3 L856.6 902.4 L858.8 903.6 L861.0 904.8 L863.2 905.9 L865.5 907.1 L867.7 908.2 L869.9 909.4 L872.1 910.5 L874.3 911.6 L876.5 912.8 L878.8 913.9 L881.0 915.1 L883.2 916.2 L885.4 917.3 L887.7 918.5 L889.9 919.6 L892.1 920.7 L894.4 921.9 L896.6 923.0 L898.8 924.1 L901.1 925.3 L903.3 926.4 L905.5 927.5 L907.8 928.6 L910.0 929.7 L912.2 930.9 L914.5 932.0 L916.7 933.1 L918.9 934.2 L921.2 935.3 L923.4 936.5 L925.6 937.6 L927.9 938.7 L930.1 939.8 L932.3 940.9 L934.6 942.1 L936.8 943.2 L939.0 944.3 L941.3 945.4 L943.5 946.5 L945.7 947.7 L948.0 948.8 L950.2 949.9 L952.4 951.0 L954.6 952.1 L956.9 953.3 L959.1 954.4 L961.3 955.5 L963.5 956.6 L965.8 957.7 L968.0 958.9 L970.2 960.0 L972.5 961.1 L974.7 962.2 L976.9 963.3 L979.2 964.4 L981.4 965.5 L983.6 966.6 L985.9 967.6 L988.1 968.7 L990.4 969.8 L992.6 970.8 L994.8 971.9 L997.1 972.9 L999.4 974.0 L1001.6 975.0 L1003.9 976.0 L1006.1 977.0 L1008.4 978.0 L1010.7 979.0 L1013.0 980.0 L1015.3 981.0 L1017.5 981.9 L1019.8 982.9 L1022.1 983.8 L1024.4 984.7 L1026.7 985.6 L1029.0 986.5 L1031.4 987.4 L1033.7 988.3 L1036.0 989.2 L1038.3 990.1 L1040.6 990.9 L1043.0 991.8 L1045.3 992.6 L1047.6 993.5 L1050.0 994.3 L1052.3 995.1 L1054.7 995.9 L1057.0 996.8 L1059.4 997.6 L1061.7 998.3 L1064.1 999.1 L1066.5 999.9 L1068.8 1000.7 L1071.2 1001.5 L1073.6 1002.2 L1075.9 1003.0 L1078.3 1003.7 L1080.7 1004.5 L1083.1 1005.2 L1085.4 1005.9 L1087.8 1006.7 L1090.2 1007.4 L1092.6 1008.1 L1095.0 1008.8 L1097.4 1009.5 L1099.8 1010.2 L1102.2 1010.9 L1104.6 1011.6 L1107.0 1012.3 L1109.4 1013.0 L1111.8 1013.7 L1114.2 1014.4 L1116.6 1015.0 L1119.0 1015.7 L1121.4 1016.4 L1123.8 1017.1 L1126.2 1017.7 L1128.6 1018.4 L1131.0 1019.1 L1133.4 1019.7 L1135.8 1020.4 L1138.2 1021.1 L1140.7 1021.7 L1143.1 1022.4 L1145.5 1023.0 L1147.9 1023.7 L1150.3 1024.4 L1152.7 1025.0 L1155.2 1025.7 L1157.6 1026.3 L1160.0 1027.0 L1162.4 1027.6 L1164.8 1028.3 L1167.2 1029.0 L1169.7 1029.6 L1172.1 1030.3 L1174.5 1030.9 L1176.9 1031.6 L1179.3 1032.3 L1181.7 1032.9 L1184.1 1033.6 L1186.6 1034.3 L1189.0 1034.9 L1191.4 1035.6 L1193.8 1036.3 L1196.2 1037.0 L1198.6 1037.6 L1201.0 1038.3 L1203.4 1039.0 L1205.8 1039.7 L1208.2 1040.4 L1210.6 1041.1 L1213.0 1041.8 L1215.4 1042.5 L1217.8 1043.2 L1220.2 1043.9 L1222.6 1044.6 L1225.0 1045.3 L1227.4 1046.1 L1229.8 1046.8 L1232.2 1047.5 L1234.6 1048.3 L1236.9 1049.0 L1239.3 1049.8 L1241.7 1050.5 L1244.1 1051.3 L1246.4 1052.1 L1248.8 1052.8 L1251.2 1053.6 L1253.6 1054.4 L1255.9 1055.2 L1258.3 1056.0 L1260.6 1056.8 L1263.0 1057.6 L1265.3 1058.4 L1267.7 1059.3 L1270.0 1060.1 L1272.4 1061.0 L1274.7 1061.8 L1277.1 1062.7 L1279.4 1063.5 L1281.7 1064.4 L1284.0 1065.3 L1286.4 1066.2 L1288.7 1067.1 L1291.0 1068.0 L1293.3 1068.9 L1295.6 1069.9 L1297.9 1070.8 L1300.2 1071.7 L1302.5 1072.7 L1304.8 1073.6 L1307.1 1074.6 L1309.4 1075.6 L1311.7 1076.6 L1314.0 1077.6 L1316.2 1078.5 L1318.5 1079.6 L1320.8 1080.6 L1323.0 1081.6 L1325.3 1082.6 L1327.6 1083.7 L1329.8 1084.7 L1332.1 1085.8 L1334.3 1086.8 L1336.6 1087.9 L1338.8 1089.0 L1341.0 1090.1 L1343.3 1091.2 L1345.5 1092.3 L1347.7 1093.4 L1349.9 1094.5 L1352.2 1095.6 L1354.4 1096.8 L1356.6 1097.9 L1358.8 1099.1 L1361.0 1100.2 L1363.2 1101.4 L1365.4 1102.6 L1367.6 1103.8 L1369.8 1105.0 L1371.9 1106.2 L1374.1 1107.4 L1376.3 1108.6 L1378.4 1109.9 L1380.6 1111.1 L1382.8 1112.3 L1384.9 1113.6 L1387.1 1114.9 L1389.2 1116.1 L1391.4 1117.4 L1393.5 1118.7 L1395.6 1120.0 L1397.8 1121.3 L1399.9 1122.6 L1402.0 1123.9 L1404.2 1125.2 L1406.3 1126.5 L1408.4 1127.8 L1410.5 1129.2 L1412.6 1130.5 L1414.8 1131.8 L1416.9 1133.1 L1419.0 1134.4 L1421.2 1135.7 L1423.3 1137.0 L1425.4 1138.3 L1427.5 1139.6 L1429.7 1140.9 L1431.8 1142.2 L1434.0 1143.4 L1436.1 1144.7 L1438.3 1145.9 L1440.4 1147.2 L1442.6 1148.4 L1444.8 1149.6 L1447.0 1150.8 L1449.1 1152.0 L1451.3 1153.2 L1453.5 1154.3 L1455.8 1155.5 L1458.0 1156.6 L1460.2 1157.7 L1462.4 1158.8 L1464.7 1159.9 L1466.9 1161.0 L1469.2 1162.0 L1471.4 1163.1 L1473.7 1164.1 L1475.9 1165.1 L1478.2 1166.1 L1480.5 1167.2 L1482.8 1168.2 L1485.0 1169.2 L1487.3 1170.1 L1489.6 1171.1 L1491.9 1172.1 L1494.2 1173.1 L1496.5 1174.0 L1498.8 1175.0 L1501.1 1176.0 L1503.4 1176.9 L1505.7 1177.9 L1508.0 1178.8 L1510.3 1179.8 L1512.6 1180.8 L1514.9 1181.7 L1517.2 1182.7 L1519.5 1183.6 L1521.8 1184.6 L1524.1 1185.6 L1526.4 1186.5 L1528.7 1187.5 L1531.0 1188.5 L1533.3 1189.5 L1535.5 1190.5 L1537.8 1191.5 L1540.1 1192.5 L1542.4 1193.5 L1544.6 1194.5 L1546.9 1195.6 L1549.2 1196.6 L1551.4 1197.7 L1553.7 1198.8 L1555.9 1199.8 L1558.1 1200.9 L1560.4 1202.0 L1562.6 1203.1 L1564.8 1204.3 L1567.0 1205.4 L1569.2 1206.6 L1571.4 1207.8 L1573.6 1209.0 L1575.7 1210.2 L1577.9 1211.4 L1580.1 1212.6 L1582.2 1213.9 L1584.4 1215.1 L1586.5 1216.4 L1588.7 1217.6 L1590.8 1218.9 L1592.9 1220.2 L1595.1 1221.5 L1597.2 1222.8 L1599.3 1224.1 L1601.4 1225.4 L1603.6 1226.8 L1605.7 1228.1 L1607.8 1229.4 L1609.9 1230.7 L1612.0 1232.0 L1614.1 1233.4 L1616.3 1234.7 L1618.4 1236.0 L1620.5 1237.3 L1622.6 1238.6 L1624.7 1239.9 L1626.9 1241.3 L1629.0 1242.6 L1631.1 1243.9 L1633.3 1245.2 L1635.4 1246.5 L1637.5 1247.7 L1639.7 1249.0 L1641.8 1250.3 L1643.9 1251.6 L1646.1 1252.9 L1648.2 1254.2 L1650.4 1255.4 L1652.5 1256.7 L1654.7 1258.0 L1656.8 1259.2 L1659.0 1260.5 L1661.1 1261.8 L1663.3 1263.0 L1665.5 1264.2 L1667.6 1265.5 L1669.8 1266.7 L1671.9 1268.0 L1674.1 1269.2 L1676.3 1270.4 L1678.5 1271.7 L1680.6 1272.9 L1682.8 1274.1 L1685.0 1275.3 L1687.2 1276.5 L1689.4 1277.7 L1691.5 1278.9 L1693.7 1280.1 L1695.9 1281.3 L1698.1 1282.5 L1700.3 1283.7 L1702.5 1284.8 L1704.7 1286.0 L1706.9 1287.2 L1709.1 1288.3 L1711.3 1289.5 L1713.5 1290.6 L1715.8 1291.8 L1718.0 1292.9 L1720.2 1294.1 L1722.4 1295.2 L1724.6 1296.3 L1726.9 1297.5 L1729.1 1298.6 L1731.3 1299.7 L1733.5 1300.8 L1735.8 1301.9 L1738.0 1303.0 L1740.3 1304.1 L1742.5 1305.2 L1744.8 1306.2 L1747.0 1307.3 L1749.3 1308.4 L1751.5 1309.4 L1753.8 1310.5 L1756.0 1311.6 L1758.3 1312.6 L1760.6 1313.6 L1762.8 1314.7 L1765.1 1315.7 L1767.4 1316.7 L1769.7 1317.7 L1771.9 1318.8 L1774.2 1319.8 L1776.5 1320.8 L1778.8 1321.7 L1781.1 1322.7 L1783.4 1323.7 L1785.7 1324.7 L1788.0 1325.7 L1790.3 1326.6 L1792.6 1327.6 L1794.9 1328.5 L1797.2 1329.5 L1799.5 1330.4 L1801.8 1331.3 L1804.2 1332.2 L1806.5 1333.2 L1808.8 1334.1 L1811.2 1335.0 L1813.5 1335.9 L1815.8 1336.7 L1818.2 1337.6 L1820.5 1338.5 L1822.9 1339.4 L1825.2 1340.2 L1827.6 1341.1 L1829.9 1341.9 L1832.3 1342.7 L1834.7 1343.6 L1837.0 1344.4 L1839.4 1345.2 L1841.8 1346.0 L1844.2 1346.8 L1846.5 1347.6" fill="none" stroke="#0000ff" stroke-width="8.6" stroke-linejoin="round" stroke-linecap="round"/><g shape-rendering="crispEdges"><rect x="237.3" y="46.3" width="11.5" height="1445" fill="#0000ff"/><rect x="213.8" y="46.2" width="24.0" height="11.5" fill="#0000ff"/><rect x="227.3" y="189.6" width="10.5" height="11.5" fill="#0000ff"/><rect x="213.8" y="333.0" width="24.0" height="11.5" fill="#0000ff"/><rect x="227.3" y="476.3" width="10.5" height="11.5" fill="#0000ff"/><rect x="213.8" y="619.7" width="24.0" height="11.5" fill="#0000ff"/><rect x="227.3" y="763.0" width="10.5" height="11.5" fill="#0000ff"/><rect x="213.8" y="906.4" width="24.0" height="11.5" fill="#0000ff"/><rect x="227.3" y="1049.7" width="10.5" height="11.5" fill="#0000ff"/><rect x="213.8" y="1193.1" width="24.0" height="11.5" fill="#0000ff"/><rect x="227.3" y="1336.4" width="10.5" height="11.5" fill="#0000ff"/><rect x="213.8" y="1479.8" width="24.0" height="11.5" fill="#0000ff"/><rect x="248.8" y="1479.9" width="1770" height="11.5" fill="#008000"/><rect x="237.1" y="1491" width="11.5" height="23.0" fill="#008000"/><rect x="326.2" y="1491" width="11.5" height="9.5" fill="#008000"/><rect x="415.3" y="1491" width="11.5" height="23.0" fill="#008000"/><rect x="504.5" y="1491" width="11.5" height="9.5" fill="#008000"/><rect x="593.6" y="1491" width="11.5" height="23.0" fill="#008000"/><rect x="682.8" y="1491" width="11.5" height="9.5" fill="#008000"/><rect x="771.9" y="1491" width="11.5" height="23.0" fill="#008000"/><rect x="861.0" y="1491" width="11.5" height="9.5" fill="#008000"/><rect x="950.2" y="1491" width="11.5" height="23.0" fill="#008000"/><rect x="1039.3" y="1491" width="11.5" height="9.5" fill="#008000"/><rect x="1128.5" y="1491" width="11.5" height="23.0" fill="#008000"/><rect x="1217.6" y="1491" width="11.5" height="9.5" fill="#008000"/><rect x="1306.7" y="1491" width="11.5" height="23.0" fill="#008000"/><rect x="1395.9" y="1491" width="11.5" height="9.5" fill="#008000"/><rect x="1485.0" y="1491" width="11.5" height="23.0" fill="#008000"/><rect x="1574.1" y="1491" width="11.5" height="9.5" fill="#008000"/><rect x="1663.3" y="1491" width="11.5" height="23.0" fill="#008000"/><rect x="1752.4" y="1491" width="11.5" height="9.5" fill="#008000"/><rect x="1841.6" y="1491" width="11.5" height="23.0" fill="#008000"/><rect x="1930.7" y="1491" width="11.5" height="9.5" fill="#008000"/><rect x="2019.8" y="1491" width="11.5" height="23.0" fill="#008000"/><rect x="237.3" y="46.3" width="1782" height="11.5" fill="#008000"/><rect x="2019" y="46.3" width="12" height="1445" fill="#ff0000"/><rect x="2030.5" y="46.2" width="22.0" height="11.5" fill="#ff0000"/><rect x="2030.5" y="148.6" width="9.0" height="11.5" fill="#ff0000"/><rect x="2030.5" y="251.0" width="22.0" height="11.5" fill="#ff0000"/><rect x="2030.5" y="353.4" width="9.0" height="11.5" fill="#ff0000"/><rect x="2030.5" y="455.8" width="22.0" height="11.5" fill="#ff0000"/><rect x="2030.5" y="558.1" width="9.0" height="11.5" fill="#ff0000"/><rect x="2030.5" y="660.5" width="22.0" height="11.5" fill="#ff0000"/><rect x="2030.5" y="762.9" width="9.0" height="11.5" fill="#ff0000"/><rect x="2030.5" y="865.2" width="22.0" height="11.5" fill="#ff0000"/><rect x="2030.5" y="967.6" width="9.0" height="11.5" fill="#ff0000"/><rect x="2030.5" y="1070.0" width="22.0" height="11.5" fill="#ff0000"/><rect x="2030.5" y="1172.4" width="9.0" height="11.5" fill="#ff0000"/><rect x="2030.5" y="1274.8" width="22.0" height="11.5" fill="#ff0000"/><rect x="2030.5" y="1377.1" width="9.0" height="11.5" fill="#ff0000"/><rect x="2030.5" y="1479.5" width="22.0" height="11.5" fill="#ff0000"/></g><line x1="1075.0" y1="997.7" x2="1566.0" y2="997.7" stroke="#0000ff" stroke-width="8.5" stroke-linecap="butt" shape-rendering="crispEdges"/><line x1="1510.0" y1="1177.9" x2="1958.0" y2="1177.9" stroke="#0000ff" stroke-width="8.0" stroke-linecap="butt" shape-rendering="crispEdges"/><line x1="1725.0" y1="1293.9" x2="1955.0" y2="1293.9" stroke="#0000ff" stroke-width="8.0" stroke-linecap="butt" shape-rendering="crispEdges"/><line x1="1523.0" y1="1135.0" x2="1523.0" y2="1001.0" stroke="#0000ff" stroke-width="8.0" stroke-linecap="butt" shape-rendering="crispEdges"/><polygon points="1515.0,1135.0 1531.0,1135.0 1523.0,1174.0" fill="#0000ff" stroke="#0000ff" stroke-width="8.0" stroke-linejoin="round"/><line x1="1740.2" y1="1253.0" x2="1740.2" y2="1178.0" stroke="#0000ff" stroke-width="8.0" stroke-linecap="butt" shape-rendering="crispEdges"/><polygon points="1732.7,1253.0 1747.7,1253.0 1740.2,1290.0" fill="#0000ff" stroke="#0000ff" stroke-width="8.0" stroke-linejoin="round"/><line x1="606.0" y1="358.0" x2="606.0" y2="1398.8" stroke="#ff0000" stroke-width="8.0" stroke-linecap="butt" shape-rendering="crispEdges"/><polygon points="597.0,358.0 615.0,358.0 606.0,321.0" fill="#ff0000" stroke="#ff0000" stroke-width="8.0" stroke-linejoin="round"/><line x1="1075.4" y1="182.0" x2="1075.4" y2="1395.7" stroke="#ff0000" stroke-width="8.0" stroke-linecap="butt" shape-rendering="crispEdges"/><polygon points="1066.9,182.0 1083.9,182.0 1075.4,145.0" fill="#ff0000" stroke="#ff0000" stroke-width="8.0" stroke-linejoin="round"/><line x1="1509.9" y1="216.0" x2="1509.9" y2="1395.3" stroke="#ff0000" stroke-width="8.0" stroke-linecap="butt" shape-rendering="crispEdges"/><polygon points="1501.4,216.0 1518.4,216.0 1509.9,183.0" fill="#ff0000" stroke="#ff0000" stroke-width="8.0" stroke-linejoin="round"/><line x1="1725.6" y1="240.5" x2="1725.6" y2="1408.6" stroke="#ff0000" stroke-width="8.0" stroke-linecap="butt" shape-rendering="crispEdges"/><polygon points="1717.1,240.5 1734.1,240.5 1725.6,203.5" fill="#ff0000" stroke="#ff0000" stroke-width="8.0" stroke-linejoin="round"/><line x1="607.0" y1="741.5" x2="1057.0" y2="741.5" stroke="#0000ff" stroke-width="8.5" stroke-linecap="butt" shape-rendering="crispEdges"/><line x1="631.0" y1="704.0" x2="631.0" y2="51.0" stroke="#0000ff" stroke-width="8.0" stroke-linecap="butt" shape-rendering="crispEdges"/><polygon points="622.0,704.0 640.0,704.0 631.0,741.0" fill="#0000ff" stroke="#0000ff" stroke-width="8.0" stroke-linejoin="round"/><text x="196.5" y="73.5" fill="#0000ff" font-size="69.5" text-anchor="end" font-family="Liberation Serif, Times New Roman, serif" font-weight="bold"  textLength="103.2" lengthAdjust="spacingAndGlyphs">100</text><text x="196.5" y="360.2" fill="#0000ff" font-size="69.5" text-anchor="end" font-family="Liberation Serif, Times New Roman, serif" font-weight="bold"  textLength="68.8" lengthAdjust="spacingAndGlyphs">95</text><text x="196.5" y="646.9" fill="#0000ff" font-size="69.5" text-anchor="end" font-family="Liberation Serif, Times New Roman, serif" font-weight="bold"  textLength="68.8" lengthAdjust="spacingAndGlyphs">90</text><text x="196.5" y="933.6" fill="#0000ff" font-size="69.5" text-anchor="end" font-family="Liberation Serif, Times New Roman, serif" font-weight="bold"  textLength="68.8" lengthAdjust="spacingAndGlyphs">85</text><text x="196.5" y="1220.3" fill="#0000ff" font-size="69.5" text-anchor="end" font-family="Liberation Serif, Times New Roman, serif" font-weight="bold"  textLength="68.8" lengthAdjust="spacingAndGlyphs">80</text><text x="196.5" y="1507.0" fill="#0000ff" font-size="69.5" text-anchor="end" font-family="Liberation Serif, Times New Roman, serif" font-weight="bold"  textLength="68.8" lengthAdjust="spacingAndGlyphs">75</text><text x="242.8" y="1586.3" fill="#008000" font-size="69.5" text-anchor="middle" font-family="Liberation Serif, Times New Roman, serif" font-weight="bold"  textLength="34.4" lengthAdjust="spacingAndGlyphs">0</text><text x="421.1" y="1586.3" fill="#008000" font-size="69.5" text-anchor="middle" font-family="Liberation Serif, Times New Roman, serif" font-weight="bold"  textLength="103.2" lengthAdjust="spacingAndGlyphs">100</text><text x="599.4" y="1586.3" fill="#008000" font-size="69.5" text-anchor="middle" font-family="Liberation Serif, Times New Roman, serif" font-weight="bold"  textLength="103.2" lengthAdjust="spacingAndGlyphs">200</text><text x="777.6" y="1586.3" fill="#008000" font-size="69.5" text-anchor="middle" font-family="Liberation Serif, Times New Roman, serif" font-weight="bold"  textLength="103.2" lengthAdjust="spacingAndGlyphs">300</text><text x="955.9" y="1586.3" fill="#008000" font-size="69.5" text-anchor="middle" font-family="Liberation Serif, Times New Roman, serif" font-weight="bold"  textLength="103.2" lengthAdjust="spacingAndGlyphs">400</text><text x="1134.2" y="1586.3" fill="#008000" font-size="69.5" text-anchor="middle" font-family="Liberation Serif, Times New Roman, serif" font-weight="bold"  textLength="103.2" lengthAdjust="spacingAndGlyphs">500</text><text x="1312.5" y="1586.3" fill="#008000" font-size="69.5" text-anchor="middle" font-family="Liberation Serif, Times New Roman, serif" font-weight="bold"  textLength="103.2" lengthAdjust="spacingAndGlyphs">600</text><text x="1490.8" y="1586.3" fill="#008000" font-size="69.5" text-anchor="middle" font-family="Liberation Serif, Times New Roman, serif" font-weight="bold"  textLength="103.2" lengthAdjust="spacingAndGlyphs">700</text><text x="1669.0" y="1586.3" fill="#008000" font-size="69.5" text-anchor="middle" font-family="Liberation Serif, Times New Roman, serif" font-weight="bold"  textLength="103.2" lengthAdjust="spacingAndGlyphs">800</text><text x="1847.3" y="1586.3" fill="#008000" font-size="69.5" text-anchor="middle" font-family="Liberation Serif, Times New Roman, serif" font-weight="bold"  textLength="103.2" lengthAdjust="spacingAndGlyphs">900</text><text x="2025.6" y="1586.3" fill="#008000" font-size="69.5" text-anchor="middle" font-family="Liberation Serif, Times New Roman, serif" font-weight="bold"  textLength="137.6" lengthAdjust="spacingAndGlyphs">1000</text><text x="2071.0" y="73.8" fill="#ff0000" font-size="69.5" text-anchor="start" font-family="Liberation Serif, Times New Roman, serif" font-weight="bold"  textLength="120.4" lengthAdjust="spacingAndGlyphs">0.00</text><text x="2071.0" y="278.6" fill="#ff0000" font-size="69.5" text-anchor="start" font-family="Liberation Serif, Times New Roman, serif" font-weight="bold"  textLength="143.3" lengthAdjust="spacingAndGlyphs">-0.02</text><text x="2071.0" y="483.3" fill="#ff0000" font-size="69.5" text-anchor="start" font-family="Liberation Serif, Times New Roman, serif" font-weight="bold"  textLength="143.3" lengthAdjust="spacingAndGlyphs">-0.04</text><text x="2071.0" y="688.0" fill="#ff0000" font-size="69.5" text-anchor="start" font-family="Liberation Serif, Times New Roman, serif" font-weight="bold"  textLength="143.3" lengthAdjust="spacingAndGlyphs">-0.06</text><text x="2071.0" y="892.8" fill="#ff0000" font-size="69.5" text-anchor="start" font-family="Liberation Serif, Times New Roman, serif" font-weight="bold"  textLength="143.3" lengthAdjust="spacingAndGlyphs">-0.08</text><text x="2071.0" y="1097.5" fill="#ff0000" font-size="69.5" text-anchor="start" font-family="Liberation Serif, Times New Roman, serif" font-weight="bold"  textLength="143.3" lengthAdjust="spacingAndGlyphs">-0.10</text><text x="2071.0" y="1302.3" fill="#ff0000" font-size="69.5" text-anchor="start" font-family="Liberation Serif, Times New Roman, serif" font-weight="bold"  textLength="143.3" lengthAdjust="spacingAndGlyphs">-0.12</text><text x="2071.0" y="1507.1" fill="#ff0000" font-size="69.5" text-anchor="start" font-family="Liberation Serif, Times New Roman, serif" font-weight="bold"  textLength="143.3" lengthAdjust="spacingAndGlyphs">-0.14</text><text x="906.3" y="1681.0" fill="#008000" font-size="74.5" text-anchor="start" font-family="Liberation Serif, Times New Roman, serif" font-weight="bold"  textLength="572.5" lengthAdjust="spacing">Temperature (&#176;C)</text><text transform="translate(79.5,1031) rotate(-90)" fill="#0000ff" font-size="74.5" font-family="Liberation Serif, Times New Roman, serif" font-weight="bold">TG (Mass loss %)</text><text transform="translate(2299.5,967) rotate(-90)" fill="#ff0000" font-size="74.5" font-family="Liberation Serif, Times New Roman, serif" font-weight="bold" textLength="454.3" lengthAdjust="spacing">DTG (&#176;C/min)</text><text x="1639.5" y="136.5" fill="#000000" font-size="75.0" text-anchor="start" font-family="Liberation Serif, Times New Roman, serif" font-weight="bold" >a CSM1-25</text><text x="654.1" y="428.6" fill="#ff0000" font-size="67.5" text-anchor="start" font-family="Liberation Serif, Times New Roman, serif" font-weight="bold" >Gel produts</text><text x="655.8" y="513.2" fill="#ff0000" font-size="67.5" text-anchor="start" font-family="Liberation Serif, Times New Roman, serif" font-weight="bold"  textLength="279.3" lengthAdjust="spacing">Ettringite</text><text x="655.8" y="597.1" fill="#0000ff" font-size="67.5" text-anchor="start" font-family="Liberation Serif, Times New Roman, serif" font-weight="bold" >Mass loss</text><text x="654.2" y="682.1" fill="#0000ff" font-size="67.5" text-anchor="start" font-family="Liberation Serif, Times New Roman, serif" font-weight="bold" >11.12 %</text><text x="520.5" y="1452.3" fill="#ff0000" font-size="67.5" text-anchor="start" font-family="Liberation Serif, Times New Roman, serif" font-weight="bold" >203 &#176;C</text><text x="992.0" y="1460.3" fill="#ff0000" font-size="67.5" text-anchor="start" font-family="Liberation Serif, Times New Roman, serif" font-weight="bold"  textLength="175.0" lengthAdjust="spacing">467&#176;C</text><text x="1421.9" y="1471.0" fill="#ff0000" font-size="67.5" text-anchor="start" font-family="Liberation Serif, Times New Roman, serif" font-weight="bold" >710&#176;C</text><text x="1647.6" y="1461.0" fill="#ff0000" font-size="67.5" text-anchor="start" font-family="Liberation Serif, Times New Roman, serif" font-weight="bold"  textLength="175.8" lengthAdjust="spacing">832&#176;C</text><text x="1533.4" y="1043.1" fill="#ff0000" font-size="47.5" font-family="Liberation Serif, Times New Roman, serif" font-weight="bold">Ca(OH)<tspan font-size="34" dx="-1.8" dy="12.8">2</tspan></text><text x="1534.3" y="1112.9" fill="#0000ff" font-size="46.7" text-anchor="start" font-family="Liberation Serif, Times New Roman, serif" font-weight="bold" >Mass loss</text><text x="1533.2" y="1175.0" fill="#0000ff" font-size="48.5" text-anchor="start" font-family="Liberation Serif, Times New Roman, serif" font-weight="bold" >3.05%</text><text x="1749.0" y="1220.6" fill="#ff0000" font-size="41" font-family="Liberation Serif, Times New Roman, serif" font-weight="bold">CaCO<tspan font-size="29.5" dx="-3" dy="11">3</tspan></text><text x="1749.5" y="1279.6" fill="#0000ff" font-size="40.4" text-anchor="start" font-family="Liberation Serif, Times New Roman, serif" font-weight="bold" >Mass loss2.17%</text></svg>
</body></html>
